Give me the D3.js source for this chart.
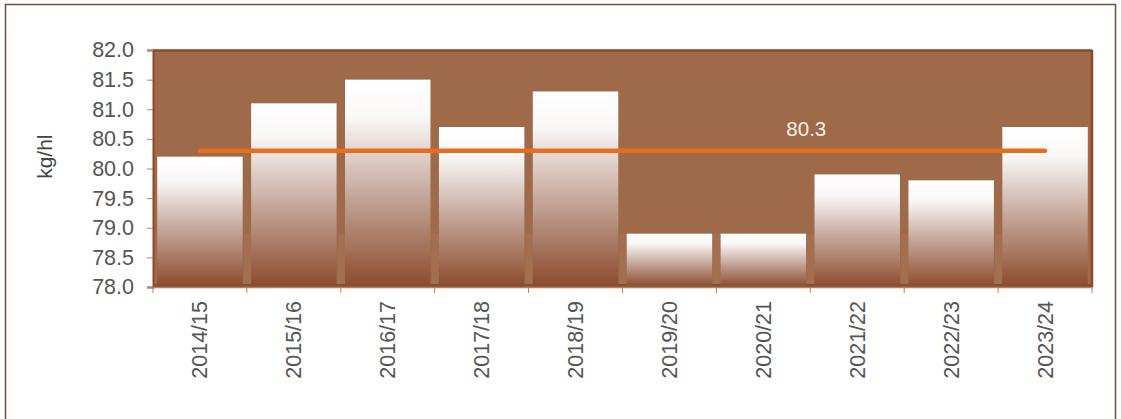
<!DOCTYPE html>
<html>
<head>
<meta charset="utf-8">
<script src="https://cdn.jsdelivr.net/npm/d3@7"></script>
<style>
  body { margin: 0; background: #fff; }
  svg { display: block; font-family: "Liberation Sans", Arial, sans-serif; }
</style>
</head>
<body>
<div id="chart"></div>
<script>
const seasons = ["2014/15", "2015/16", "2016/17", "2017/18", "2018/19", "2019/20", "2020/21", "2021/22", "2022/23", "2023/24"];
const weights = [80.2, 81.1, 81.5, 80.7, 81.3, 78.9, 78.9, 79.9, 79.8, 80.7];
const average = 80.3;
const yTicks = [78.0, 78.5, 79.0, 79.5, 80.0, 80.5, 81.0, 81.5, 82.0];

const W = 1121, H = 419;
const margin = {top: 50, right: 29, bottom: 132, left: 153};
const width = W - margin.left - margin.right;
const height = H - margin.top - margin.bottom;

const svg = d3.select("#chart").append("svg")
    .attr("width", W)
    .attr("height", H);

// outer frame
svg.append("rect")
    .attr("x", 5.5).attr("y", 4.5)
    .attr("width", 1110).attr("height", 430)
    .attr("fill", "none")
    .attr("stroke", "#6e4f3f")
    .attr("stroke-width", 1.5);

const defs = svg.append("defs");
const grad = defs.append("linearGradient")
    .attr("id", "barGrad")
    .attr("x1", 0).attr("y1", 0).attr("x2", 0).attr("y2", 1);
grad.append("stop").attr("offset", "0%").attr("stop-color", "#ffffff");
grad.append("stop").attr("offset", "18%").attr("stop-color", "#faf8f7");
grad.append("stop").attr("offset", "55%").attr("stop-color", "#c6a89c");
grad.append("stop").attr("offset", "100%").attr("stop-color", "#8c4a2b");

const g = svg.append("g")
    .attr("transform", "translate(" + margin.left + "," + margin.top + ")");

const x = d3.scaleBand().domain(seasons).range([0, width]).paddingInner(0.09).paddingOuter(0.045);
const xb = d3.scaleBand().domain(seasons).range([0, width]);
const y = d3.scaleLinear().domain([78, 82]).range([height, 0]);

// plot background
g.append("rect")
    .attr("x", 0).attr("y", 0)
    .attr("width", width).attr("height", height)
    .attr("fill", "#9e6a4a");
g.append("rect")
    .attr("x", 0).attr("y", height - 3)
    .attr("width", width).attr("height", 3)
    .attr("fill", "#8c4d2e");
g.append("line")
    .attr("x1", 0).attr("x2", width).attr("y1", 0.5).attr("y2", 0.5)
    .attr("stroke", "#8c4a2b").attr("stroke-width", 2.5);
g.append("line")
    .attr("x1", width).attr("x2", width).attr("y1", 0).attr("y2", height)
    .attr("stroke", "#8c4a2b").attr("stroke-width", 2.5);

// lighter stripes in gaps between bars
g.append("g").selectAll("rect")
    .data(seasons.slice(1))
    .enter().append("rect")
    .attr("x", d => xb(d) - 3)
    .attr("y", y(78.9))
    .attr("width", 7)
    .attr("height", height - y(78.9) - 3)
    .attr("fill", "#a46f50");

g.append("g").selectAll("rect")
    .data(weights)
    .enter().append("rect")
    .attr("x", (d, i) => x(seasons[i]))
    .attr("y", d => y(d))
    .attr("width", x.bandwidth())
    .attr("height", d => height - y(d))
    .attr("fill", "url(#barGrad)");

// average line
g.append("line")
    .attr("x1", xb(seasons[0]) + xb.bandwidth() / 2)
    .attr("x2", xb(seasons[seasons.length - 1]) + xb.bandwidth() / 2)
    .attr("y1", y(average)).attr("y2", y(average))
    .attr("stroke", "#ea6d19")
    .attr("stroke-width", 4.5)
    .attr("stroke-linecap", "round");

g.append("text")
    .attr("x", xb(seasons[7]) - 4)
    .attr("y", y(average) - 15)
    .attr("text-anchor", "middle")
    .attr("fill", "#fbf1e6")
    .attr("font-size", 20.5)
    .text(average.toFixed(1));

// y axis
const yAxis = g.append("g")
    .call(d3.axisLeft(y).tickValues(yTicks).tickFormat(d3.format(".1f")).tickSize(6).tickPadding(13));
yAxis.select(".domain").attr("stroke", "#8c4a2b").attr("stroke-width", 2);
yAxis.selectAll(".tick line").attr("stroke", "#b0806a");
yAxis.selectAll(".tick text").attr("fill", "#555").attr("font-size", 21.5);

// x axis
const xAxis = g.append("g")
    .attr("transform", "translate(0," + height + ")")
    .call(d3.axisBottom(xb).tickSize(0).tickPadding(0));
xAxis.select(".domain").attr("stroke", "#b0806a").attr("stroke-width", 1.5);
xAxis.selectAll(".tick text")
    .attr("fill", "#555")
    .attr("font-size", 21.5)
    .attr("transform", "rotate(-90)")
    .attr("text-anchor", "end")
    .attr("x", -14)
    .attr("y", 0)
    .attr("dy", "0.35em");

// boundary ticks
g.append("g").selectAll("line")
    .data(seasons.concat(["end"]))
    .enter().append("line")
    .attr("x1", (d, i) => i * xb.step())
    .attr("x2", (d, i) => i * xb.step())
    .attr("y1", height).attr("y2", height + 6)
    .attr("stroke", "#b0806a");

// y title
svg.append("text")
    .attr("transform", "translate(52," + (margin.top + y(80.2)) + ") rotate(-90)")
    .attr("text-anchor", "middle")
    .attr("fill", "#444")
    .attr("font-size", 21)
    .text("kg/hl");
</script>
</body>
</html>
